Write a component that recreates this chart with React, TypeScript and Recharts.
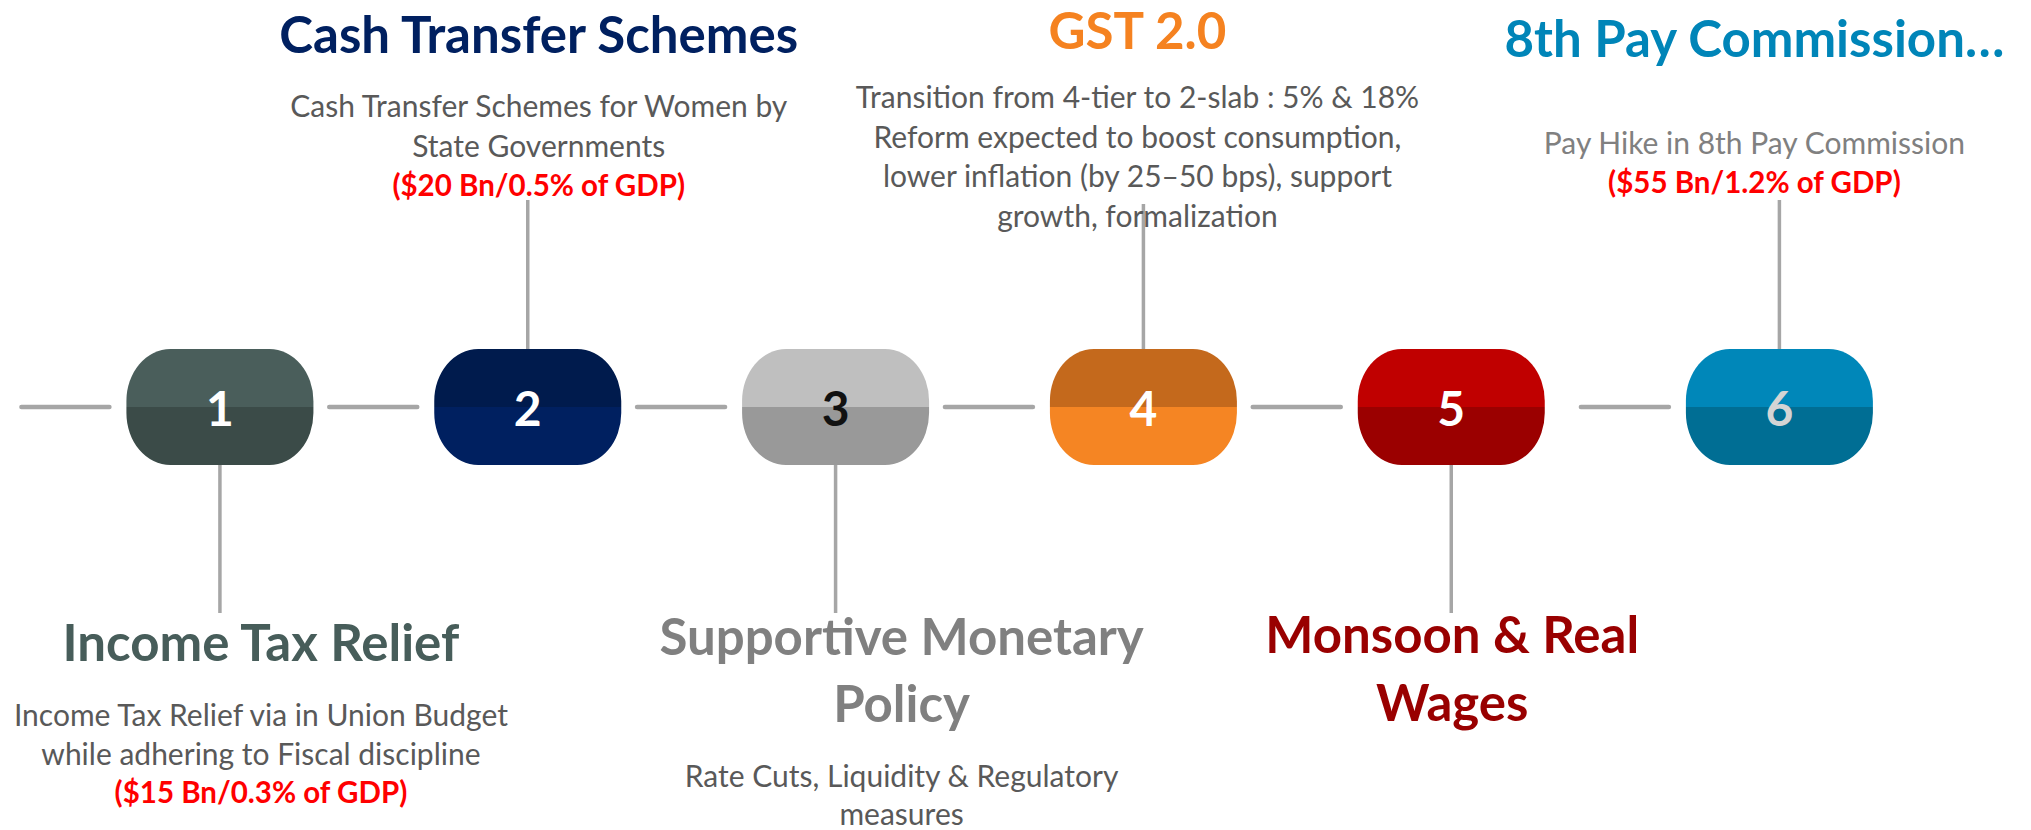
import React from 'react';
import { ComposedChart, Scatter, XAxis, YAxis } from 'recharts';

// ---------- data ----------
const stepNumbers = ['1', '2', '3', '4', '5', '6'];
const stepPositions = [1, 2, 3, 4, 5, 6.066];
const stepTitles = [
  ['Income Tax Relief'],
  ['Cash Transfer Schemes'],
  ['Supportive Monetary', 'Policy'],
  ['GST 2.0'],
  ['Monsoon & Real', 'Wages'],
  ['8th Pay Commission…'],
];
const stepDescriptions = [
  ['Income Tax Relief via in Union Budget', 'while adhering to Fiscal discipline'],
  ['Cash Transfer Schemes for Women by', 'State Governments'],
  ['Rate Cuts, Liquidity & Regulatory', 'measures'],
  [
    'Transition from 4-tier to 2-slab : 5% & 18%',
    'Reform expected to boost consumption,',
    'lower inflation (by 25–50 bps), support',
    'growth, formalization',
  ],
  [],
  ['Pay Hike in 8th Pay Commission'],
];
const stepCosts = ['($15 Bn/0.3% of GDP)', '($20 Bn/0.5% of GDP)', '', '', '', '($55 Bn/1.2% of GDP)'];

// ---------- styles / layout ----------
const pillTop = ['#4a5e5b', '#001b4d', '#bfbfbf', '#c4691c', '#c00000', '#0087b9'];
const pillBottom = ['#3b4b48', '#002060', '#999999', '#f58523', '#9b0000', '#006e94'];
const numberColors = ['#ffffff', '#ffffff', '#111111', '#ffffff', '#ffffff', '#d4d4d4'];
const titleColors = ['#475d5a', '#002060', '#808080', '#f58220', '#990000', '#0085b8'];
const descColors = ['#595959', '#595959', '#595959', '#595959', '#595959', '#808080'];
// offsets relative to pill center
const layouts = [
  { shift: 41, titleY: [254], descY: [319, 358], costY: 396, lineTo: 206 },
  { shift: 11, titleY: [-354], descY: [-290, -250], costY: -211, lineTo: -207 },
  { shift: 66, titleY: [248, 315], descY: [380, 418], costY: 0, lineTo: 206 },
  { shift: -6, titleY: [-358], descY: [-299, -259, -220, -180], costY: 0, lineTo: -203 },
  { shift: 1, titleY: [246, 314], descY: [], costY: 0, lineTo: 206 },
  { shift: -25, titleY: [-350], descY: [-253], costY: -214, lineTo: -207 },
];

const FONT = "Lato, 'Open Sans', sans-serif";
const TITLE_SIZE = 51;
const DESC_SIZE = 30;
const COST_SIZE = 29.5;
const PILL_W = 187;
const PILL_H = 116;
const RX = 44;
const RY = 52;
const LINE = '#a6a6a6';

const chartData = stepNumbers.map((n, i) => ({ x: stepPositions[i], y: 0, i }));

function StepShape(props: any) {
  const { cx, cy, payload } = props;
  const i = payload.i;
  const L = layouts[i];
  const x0 = cx - PILL_W / 2;
  const x1 = cx + PILL_W / 2;
  const y0 = cy - PILL_H / 2;
  const y1 = cy + PILL_H / 2;
  const topPath = `M ${x0} ${cy} L ${x0} ${y0 + RY} A ${RX} ${RY} 0 0 1 ${x0 + RX} ${y0} L ${x1 - RX} ${y0} A ${RX} ${RY} 0 0 1 ${x1} ${y0 + RY} L ${x1} ${cy} Z`;
  const botPath = `M ${x0} ${cy} L ${x1} ${cy} L ${x1} ${y1 - RY} A ${RX} ${RY} 0 0 1 ${x1 - RX} ${y1} L ${x0 + RX} ${y1} A ${RX} ${RY} 0 0 1 ${x0} ${y1 - RY} Z`;
  const above = L.lineTo < 0;
  const tx = cx + L.shift;
  return (
    <g>
      <line x1={x0 - 105} x2={x0 - 17} y1={cy} y2={cy} stroke={LINE} strokeWidth={4.5} strokeLinecap="round" />
      <line x1={cx} x2={cx} y1={above ? y0 : y1} y2={cy + L.lineTo} stroke={LINE} strokeWidth={3.5} />
      <path d={topPath} fill={pillTop[i]} />
      <path d={botPath} fill={pillBottom[i]} />
      <text x={cx} y={cy + 19} textAnchor="middle" fontFamily={FONT} fontWeight={700} fontSize={48} fill={numberColors[i]}>
        {stepNumbers[i]}
      </text>
      {stepTitles[i].map((t, k) => (
        <text key={'t' + k} x={tx} y={cy + L.titleY[k]} textAnchor="middle" fontFamily={FONT} fontWeight={700} fontSize={TITLE_SIZE} fill={titleColors[i]}>
          {t}
        </text>
      ))}
      {stepDescriptions[i].map((t, k) => (
        <text key={'d' + k} x={tx} y={cy + L.descY[k]} textAnchor="middle" fontFamily={FONT} fontSize={DESC_SIZE} fill={descColors[i]}>
          {t}
        </text>
      ))}
      {stepCosts[i] ? (
        <text x={tx} y={cy + L.costY} textAnchor="middle" fontFamily={FONT} fontWeight={700} fontSize={COST_SIZE} fill="#ff0000">
          {stepCosts[i]}
        </text>
      ) : null}
    </g>
  );
}

export default function App() {
  return (
    <div style={{ position: 'absolute', left: 0, top: 0, width: 2031, height: 830, background: '#ffffff' }}>
      <ComposedChart width={2031} height={830} data={chartData} margin={{ top: 0, right: 118, bottom: 16, left: 66 }}>
        <XAxis type="number" dataKey="x" domain={[0.5, 6.5]} hide />
        <YAxis type="number" dataKey="y" domain={[-1, 1]} hide />
        <Scatter dataKey="y" data={chartData} shape={StepShape} isAnimationActive={false} />
      </ComposedChart>
    </div>
  );
}
